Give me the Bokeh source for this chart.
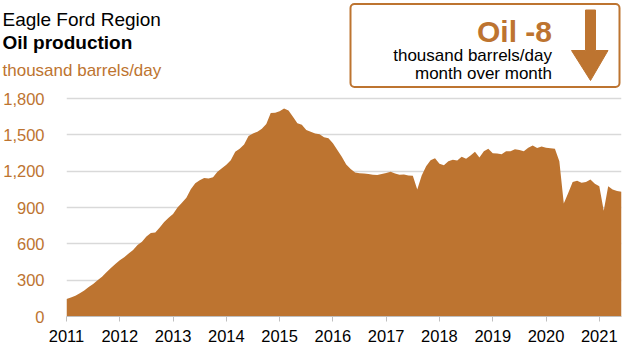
from bokeh.plotting import figure
from bokeh.layouts import column, row
from bokeh.models import (Range1d, FixedTicker, NumeralTickFormatter, Label,
                          ColumnDataSource)
from bokeh.embed import file_html
from bokeh.resources import INLINE

# ---------------- data (monthly, Jan 2011 - Jun 2021) ----------------
start_year = 2011
production = [
    # 2011
    145, 157, 171, 192, 215, 243, 268, 300, 329, 365, 400, 433,
    # 2012
    465, 490, 520, 550, 590, 618, 660, 689, 694, 735, 781, 815,
    # 2013
    847, 900, 940, 980, 1050, 1100, 1125, 1144, 1140, 1150, 1195, 1225,
    # 2014
    1254, 1290, 1360, 1385, 1420, 1490, 1512, 1525, 1550, 1590, 1680, 1683,
    # 2015
    1695, 1718, 1700, 1650, 1595, 1583, 1540, 1525, 1512, 1505, 1480, 1472,
    # 2016
    1430, 1375, 1320, 1255, 1218, 1190, 1182, 1180, 1176, 1170, 1168, 1176,
    # 2017
    1185, 1195, 1180, 1170, 1172, 1165, 1163, 1049, 1165, 1241, 1290, 1307,
    # 2018
    1262, 1249, 1281, 1294, 1289, 1320, 1302, 1330, 1360, 1312, 1365, 1386,
    # 2019
    1347, 1345, 1339, 1365, 1365, 1381, 1375, 1365, 1394, 1412, 1391, 1404,
    # 2020
    1394, 1390, 1386, 1281, 933, 1020, 1110, 1120, 1105, 1110, 1131, 1097,
    # 2021
    1076, 873, 1076, 1049, 1036, 1031,
]
x_years = [start_year + i / 12 for i in range(len(production))]
year_ticks = list(range(2011, 2022))
value_ticks = [0, 300, 600, 900, 1200, 1500, 1800]

title1 = "Eagle Ford Region"
title2 = "Oil production"
units = "thousand barrels/day"
box_head = "Oil -8"
box_line1 = "thousand barrels/day"
box_line2 = "month over month"

# ---------------- styling ----------------
ORANGE = "#BD7430"
FONT = "Liberation Sans"
W = 624
TOP_H = 88           # header strip height
MAIN_H = 348 - TOP_H

# ---------------- header strip (titles + summary box) ----------------
hdr = figure(width=W, height=TOP_H, output_backend="svg", toolbar_location=None,
             x_range=Range1d(0, W), y_range=Range1d(TOP_H, 0),
             x_axis_type=None, y_axis_type=None,
             min_border_left=0, min_border_right=0,
             min_border_top=0, min_border_bottom=0)
hdr.outline_line_color = None
hdr.xgrid.grid_line_color = None
hdr.ygrid.grid_line_color = None


def add_text(txt, x, y, size, color="black", bold=False, align="left"):
    hdr.add_layout(Label(x=x, y=y, text=txt, text_font=FONT, text_font_size=size,
                         text_color=color, text_align=align,
                         text_baseline="middle",
                         text_font_style="bold" if bold else "normal"))


add_text(title1, 2, 19, "19px")
add_text(title2, 2, 41.5, "19px", bold=True)
add_text(units, 2, 70, "17px", color=ORANGE)

# summary box with rounded corners
hdr.rect(x=[(350 + 619) / 2], y=[(3.5 + 86.5) / 2], width=[619 - 350], height=[86.5 - 3.5],
         fill_color="white", line_color=ORANGE, line_width=2, border_radius=4)
add_text(box_head, 551.5, 30.5, "30px", color=ORANGE, bold=True, align="right")
add_text(box_line1, 551.5, 54.5, "17px", align="right")
add_text(box_line2, 551.5, 72.5, "17px", align="right")

arrow_x = [585, 595, 595, 607.5, 590, 571, 585]
arrow_y = [9.5, 9.5, 50, 50, 80, 50, 50]
hdr.patch(arrow_x, arrow_y, fill_color=ORANGE, line_color=ORANGE, line_width=1)

# ---------------- main chart ----------------
FL, FR, FT, FB = 63, 3, 2, 32
frame_top = TOP_H + FT
frame_bottom = 348 - FB
# 1800 gridline placed at y = 98 of the whole page
y_end = 1800 * (frame_bottom - frame_top) / (frame_bottom - 98)

p = figure(width=W, height=MAIN_H, output_backend="svg", toolbar_location=None,
           x_range=Range1d(x_years[0], x_years[-1]),
           y_range=Range1d(0, y_end),
           min_border_left=FL, min_border_right=FR,
           min_border_top=FT, min_border_bottom=FB)
p.outline_line_color = None

src = ColumnDataSource(dict(x=x_years, y=production))
p.varea(x="x", y1=0, y2="y", source=src, fill_color=ORANGE)

p.yaxis.ticker = FixedTicker(ticks=value_ticks)
p.yaxis.formatter = NumeralTickFormatter(format="0,0")
p.yaxis.axis_line_color = None
p.yaxis.major_tick_line_color = None
p.yaxis.minor_tick_line_color = None
p.yaxis.major_label_text_color = ORANGE
p.yaxis.major_label_text_font = FONT
p.yaxis.major_label_text_font_size = "16.5px"
p.yaxis.major_label_standoff = 16

p.xaxis.ticker = FixedTicker(ticks=year_ticks)
p.xaxis.axis_line_color = "#BFBFBF"
p.xaxis.major_tick_line_color = "#BFBFBF"
p.xaxis.major_tick_out = 5
p.xaxis.major_tick_in = 0
p.xaxis.minor_tick_line_color = None
p.xaxis.major_label_text_color = "black"
p.xaxis.major_label_text_font = FONT
p.xaxis.major_label_text_font_size = "16.5px"
p.xaxis.major_label_standoff = 8

p.xgrid.grid_line_color = None
p.ygrid.grid_line_color = "#D9D9D9"
p.ygrid.grid_line_width = 1.5

layout = column(row(hdr, spacing=0), row(p, spacing=0), spacing=0)
open("out.html", "w").write(file_html(layout, INLINE))
